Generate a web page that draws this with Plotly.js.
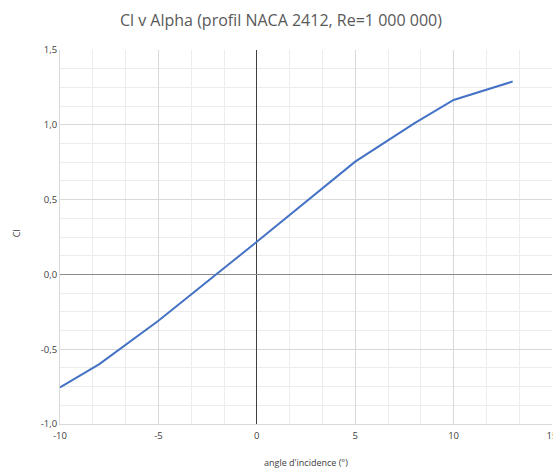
<!DOCTYPE html>
<html>
<head>
<meta charset="utf-8">
<script src="https://cdn.plot.ly/plotly-3.0.1.min.js"></script>
<style>
  html, body { margin: 0; padding: 0; background: #fff; }
  #chart { width: 553px; height: 469px; }
</style>
</head>
<body>
<div id="chart"></div>
<script>
// Lift curve of the NACA 2412 profile at Re = 1 000 000
const alpha = [-10, -8, -5, 0, 5, 8, 10, 13];
const cl = [-0.756, -0.6, -0.31, 0.218, 0.754, 1.01, 1.166, 1.289];

const xTickVals = [-10, -5, 0, 5, 10, 15];
const xTickText = ['-10', '-5', '0', '5', '10', '15'];
const yTickVals = [-1, -0.5, 0, 0.5, 1, 1.5];
const yTickText = ['-1,0', '-0,5', '0,0', '0,5', '1,0', '1,5'];

const font = 'Open Sans, Liberation Sans, sans-serif';
const textColor = '#404040';

const trace = {
  x: alpha,
  y: cl,
  type: 'scatter',
  mode: 'lines',
  line: { color: '#4472C4', width: 2 },
  hoverinfo: 'skip'
};

const layout = {
  width: 553,
  height: 469,
  margin: { l: 60, r: 1, t: 50, b: 45 },
  paper_bgcolor: '#ffffff',
  plot_bgcolor: '#ffffff',
  showlegend: false,
  title: {
    text: 'Cl v Alpha (profil NACA 2412, Re=1 000 000)',
    font: { family: font, size: 16, color: '#595959' },
    x: 0.508, xanchor: 'center',
    y: 0.957, yanchor: 'middle'
  },
  xaxis: {
    range: [-10, 15],
    tickmode: 'array',
    tickvals: xTickVals,
    ticktext: xTickText,
    ticks: '',
    ticklabeloverflow: 'allow',
    ticklabelstandoff: 3,
    tickfont: { family: font, size: 9.5, color: textColor },
    showgrid: true,
    gridcolor: '#d9d9d9',
    gridwidth: 1,
    minor: { dtick: 5 / 3, tick0: -10, showgrid: true, gridcolor: '#ececec', gridwidth: 1 },
    zeroline: true,
    zerolinecolor: '#404040',
    zerolinewidth: 1,
    showline: true,
    linecolor: '#d9d9d9',
    automargin: false,
    fixedrange: true
  },
  yaxis: {
    range: [-1, 1.5],
    tickmode: 'array',
    tickvals: yTickVals,
    ticktext: yTickText,
    ticks: '',
    tickfont: { family: font, size: 9.5, color: textColor },
    showgrid: true,
    gridcolor: '#d9d9d9',
    gridwidth: 1,
    minor: { dtick: 0.125, tick0: 0, showgrid: true, gridcolor: '#ececec', gridwidth: 1 },
    zeroline: true,
    zerolinecolor: '#8c8c8c',
    zerolinewidth: 1.3,
    showline: true,
    linecolor: '#d9d9d9',
    automargin: false,
    fixedrange: true
  },
  // Axis titles, placed as in the spreadsheet layout
  annotations: [
    {
      text: "angle d'incidence (°)",
      xref: 'paper', yref: 'paper',
      x: 0.5, y: 0, xanchor: 'center', yanchor: 'middle',
      yshift: -38,
      showarrow: false,
      font: { family: font, size: 9, color: textColor }
    },
    {
      text: 'Cl',
      xref: 'paper', yref: 'paper',
      x: 0, y: 0.51, xanchor: 'center', yanchor: 'middle',
      xshift: -44,
      textangle: -90,
      showarrow: false,
      font: { family: font, size: 9, color: textColor }
    }
  ]
};

Plotly.newPlot('chart', [trace], layout, { staticPlot: true, displayModeBar: false });
</script>
</body>
</html>
